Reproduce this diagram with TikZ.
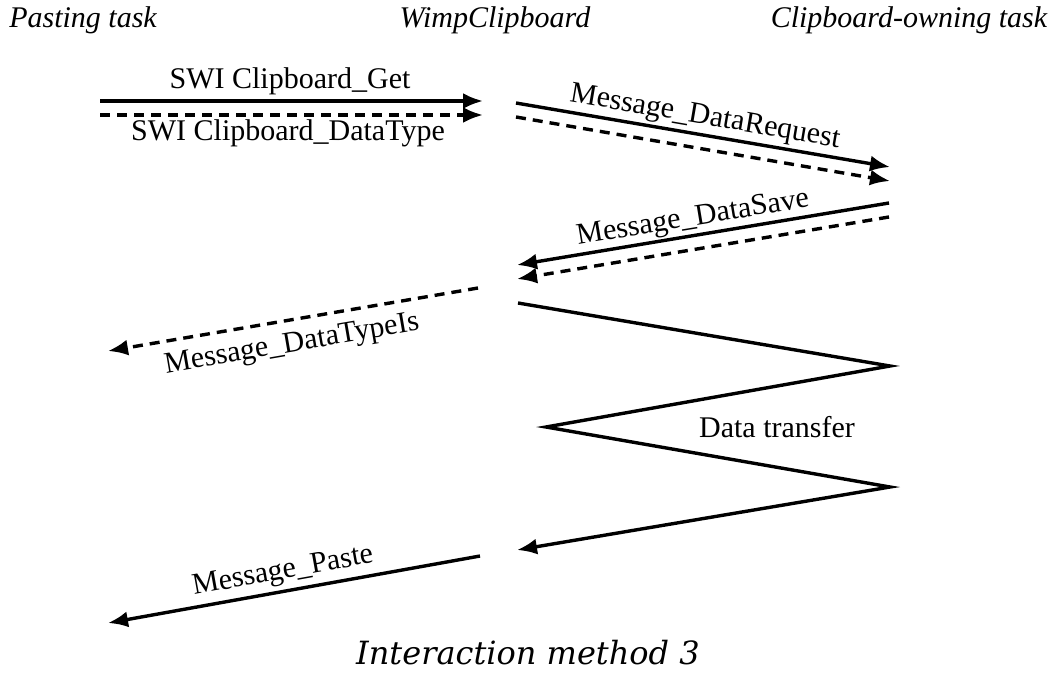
\documentclass[tikz,border=0pt]{standalone}
\usepackage{fontspec}
\setmainfont{Liberation Serif}
\newfontfamily\captionfont{DejaVu Serif}
\usetikzlibrary{arrows.meta}

\tikzset{
  msg/.style={line width=1.7pt, -{Latex[length=10pt,width=8pt]}},
  msgdash/.style={msg, dash pattern=on 5pt off 3.5pt},
  lbl/.style={font=\fontsize{15}{18}\selectfont, inner sep=0pt},
  head/.style={font=\fontsize{15}{18}\selectfont\itshape, inner sep=0pt, anchor=base},
}

\begin{document}
\begin{tikzpicture}[x=0.5pt, y=-0.5pt]
  \useasboundingbox (0,0) rectangle (1055,675);

  % 見出し
  \node[head] (paster) at (83,27) {Pasting task};
  \node[head] (wimp) at (495,27) {WimpClipboard};
  \node[head] (owner) at (909,27) {Clipboard-owning task};

  % 端点
  \coordinate (get-a) at (100,101);
  \coordinate (get-b) at (483,101);
  \coordinate (type-a) at (100,115);
  \coordinate (type-b) at (483,115);
  \coordinate (req-a) at (516,103);
  \coordinate (req-b) at (890,167);
  \coordinate (reqd-a) at (516,117);
  \coordinate (reqd-b) at (890,181);
  \coordinate (save-a) at (889,203);
  \coordinate (save-b) at (517,265);
  \coordinate (saved-a) at (889,217);
  \coordinate (saved-b) at (517,279);
  \coordinate (typeis-a) at (478,288);
  \coordinate (typeis-b) at (108,351);
  \coordinate (xfer-a) at (518,303);
  \coordinate (xfer-1) at (890,366);
  \coordinate (xfer-2) at (546,427);
  \coordinate (xfer-3) at (890,487);
  \coordinate (xfer-b) at (517,550);
  \coordinate (paste-a) at (480,556);
  \coordinate (paste-b) at (108,623);

  % 線を引く
  \draw[msg] (get-a) -- (get-b);
  \draw[msgdash] (type-a) -- (type-b);
  \draw[msg] (req-a) -- (req-b);
  \draw[msgdash] (reqd-a) -- (reqd-b);
  \draw[msg] (save-a) -- (save-b);
  \draw[msgdash] (saved-a) -- (saved-b);
  \draw[msgdash] (typeis-a) -- (typeis-b);
  \draw[msg] (xfer-a) -- (xfer-1) -- (xfer-2) -- (xfer-3) -- (xfer-b);
  \draw[msg] (paste-a) -- (paste-b);

  % ラベルを入れる
  \node[lbl, anchor=base] (getlbl) at (290,88) {SWI Clipboard\_Get};
  \node[lbl, anchor=base] (typelbl) at (288,140) {SWI Clipboard\_DataType};
  \node[lbl, rotate=-9.7] (reqlbl) at (705,118) {Message\_DataRequest};
  \node[lbl, rotate=9.4] (savelbl) at (693,219) {Message\_DataSave};
  \node[lbl, rotate=9.8] (typeislbl) at (292,345) {Message\_DataTypeIs};
  \node[lbl, anchor=base] (xferlbl) at (777,437) {Data transfer};
  \node[lbl, rotate=10.3] (pastelbl) at (283,572) {Message\_Paste};

  % 図の名前
  \node[font=\fontsize{16}{19}\selectfont\captionfont\itshape, inner sep=0pt, anchor=base] (caption) at (528,664) {Interaction method 3};
\end{tikzpicture}
\end{document}
